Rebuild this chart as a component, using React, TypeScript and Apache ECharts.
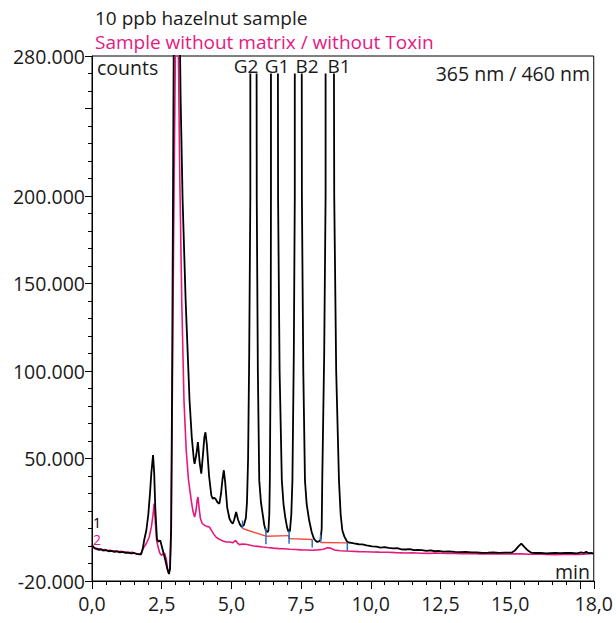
import React, { useEffect, useRef } from "react";
import * as echarts from "echarts";

// time (min), signal (thousand counts); null = trace leaves the drawn range
const sampleTrace: [number, number | null][] = [
  [0.0, 0.5], [0.05, -0.5], [0.1, -1.2], [0.17, -1.5], [0.25, -2.2], [0.33, -1.8], [0.4, -2.6], [0.5, -2.4],
  [0.6, -3.0], [0.7, -2.8], [0.8, -3.3], [0.9, -3.1], [1.0, -3.6], [1.1, -3.4], [1.2, -3.9], [1.3, -3.8],
  [1.4, -4.2], [1.5, -4.0], [1.6, -4.5], [1.7, -4.6], [1.76, -4.8], [1.82, -1.5], [1.88, 4], [1.95, 9],
  [2.02, 18], [2.08, 30], [2.13, 42], [2.19, 52], [2.23, 42], [2.27, 22], [2.33, 4], [2.38, 2.5],
  [2.45, 3.2], [2.5, 0], [2.57, -4.3], [2.63, -8], [2.7, -13], [2.76, -16], [2.8, -13], [2.84, 10],
  [2.87, 83], [2.9, 180], [2.93, 280], [2.97, 380], [3.05, 420], [3.12, 330], [3.16, 280], [3.18, 255],
  [3.25, 198], [3.36, 140], [3.5, 83], [3.58, 62], [3.65, 50], [3.68, 47], [3.74, 52], [3.8, 59.4],
  [3.86, 48], [3.92, 41.4], [3.98, 52], [4.03, 62], [4.07, 65], [4.12, 58], [4.2, 40], [4.28, 29],
  [4.33, 27], [4.38, 27.5], [4.43, 27], [4.5, 25], [4.57, 24.2], [4.63, 30], [4.68, 38], [4.73, 43.3],
  [4.78, 36], [4.85, 22], [4.93, 15.7], [5.0, 13.5], [5.05, 12.8], [5.1, 15], [5.17, 19.4], [5.24, 15],
  [5.3, 12.5], [5.37, 10.9], [5.45, 12], [5.52, 16], [5.56, 25], [5.6, 50], [5.64, 110], [5.68, 200],
  [5.68, 270], [5.79, null], [5.905, 270], [5.91, 200], [5.95, 100], [6.0, 37.5], [6.06, 25], [6.12, 18.5],
  [6.18, 12], [6.24, 8.5], [6.3, 8], [6.33, 9], [6.36, 18], [6.38, 37.5], [6.41, 110], [6.42, 200],
  [6.42, 270], [6.545, null], [6.67, 270], [6.675, 200], [6.73, 100], [6.81, 37.5], [6.87, 24], [6.93, 16.6],
  [7.0, 10.5], [7.05, 8.2], [7.1, 8.5], [7.15, 18], [7.19, 37.5], [7.24, 110], [7.275, 200], [7.275, 270],
  [7.4, null], [7.525, 270], [7.53, 200], [7.58, 100], [7.64, 37.5], [7.7, 24], [7.79, 14.7], [7.88, 8],
  [7.96, 4.2], [8.02, 3], [8.08, 2.3], [8.14, 2.6], [8.2, 3.5], [8.24, 10], [8.26, 37.5], [8.33, 110],
  [8.38, 200], [8.38, 270], [8.53, null], [8.68, 270], [8.69, 200], [8.76, 100], [8.86, 37.5], [8.92, 18],
  [8.98, 9], [9.05, 5.5], [9.1, 4], [9.15, 2.5], [9.21, 2.0], [9.3, 1.8], [9.4, 1.5], [9.57, 1.0],
  [9.7, 0.9], [9.85, 0.3], [10.05, -0.2], [10.2, -0.3], [10.35, -0.9], [10.5, -0.7], [10.64, -1.1], [10.8, -1.3],
  [10.95, -1.2], [11.1, -1.9], [11.24, -2.0], [11.4, -1.8], [11.55, -2.4], [11.7, -2.2], [11.83, -2.4], [12.0, -2.8],
  [12.15, -2.5], [12.3, -3.0], [12.43, -2.8], [12.6, -3.2], [12.8, -3.1], [13.02, -3.4], [13.2, -3.5], [13.4, -3.3],
  [13.62, -3.7], [13.8, -3.6], [14.0, -3.9], [14.21, -3.8], [14.4, -3.6], [14.6, -3.9], [14.8, -3.8], [15.05, -3.8],
  [15.17, -2.6], [15.28, -0.5], [15.4, 1.4], [15.5, -0.4], [15.64, -2.6], [15.76, -3.8], [15.9, -4.0], [16.1, -3.9],
  [16.3, -4.2], [16.6, -4.0], [16.8, -4.1], [17.0, -3.9], [17.19, -4.0], [17.4, -4.2], [17.55, -3.6], [17.65, -4.0],
  [17.73, -3.3], [17.82, -4.1], [17.9, -3.9], [18.0, -4.3],
];

const blankTrace: [number, number][] = [
  [0.0, 0.3], [0.05, -0.8], [0.1, -1.5], [0.17, -2.0], [0.25, -1.6], [0.33, -2.2], [0.45, -2.0], [0.55, -2.6],
  [0.64, -2.4], [0.75, -2.9], [0.85, -2.7], [0.95, -3.2], [1.05, -3.0], [1.15, -3.5], [1.24, -3.4], [1.35, -3.8],
  [1.45, -3.6], [1.55, -4.2], [1.65, -4.7], [1.72, -5.0], [1.78, -3.5], [1.85, -1], [1.95, 1.4], [2.05, 5],
  [2.13, 10.9], [2.19, 18], [2.23, 24.2], [2.27, 14], [2.32, 3], [2.37, -0.6], [2.43, -4], [2.49, -5.3],
  [2.55, -4.5], [2.61, -4.3], [2.67, -8], [2.72, -14], [2.76, -15.8], [2.8, -12], [2.84, 15], [2.88, 83],
  [2.93, 180], [2.99, 280], [3.03, 360], [3.07, 330], [3.1, 280], [3.15, 210], [3.22, 140], [3.3, 83],
  [3.38, 54.7], [3.46, 38], [3.56, 26.1], [3.62, 20], [3.68, 16.6], [3.73, 20], [3.77, 26], [3.8, 28],
  [3.84, 22], [3.89, 15.7], [3.95, 13], [4.04, 11.8], [4.12, 11.2], [4.21, 10.9], [4.3, 8.5], [4.38, 6.5],
  [4.45, 5.1], [4.55, 4], [4.65, 3.2], [4.81, 2.3], [4.95, 2.3], [5.05, 1.8], [5.15, 3.2], [5.22, 1.6],
  [5.29, 0.8], [5.4, 1.1], [5.52, 1.0], [5.64, 0.6], [5.8, 0.0], [5.95, -0.2], [6.12, -0.6], [6.3, -0.9],
  [6.5, -1.2], [6.71, -1.5], [6.9, -1.6], [7.1, -1.9], [7.31, -2.0], [7.5, -2.2], [7.7, -2.3], [7.9, -2.4],
  [8.1, -2.2], [8.3, -1.9], [8.45, -1.0], [8.55, -1.2], [8.7, -2.3], [8.9, -2.7], [9.1, -2.9], [9.3, -3.0],
  [9.57, -3.2], [9.8, -3.3], [10.05, -3.4], [10.3, -3.5], [10.6, -3.6], [10.9, -3.8], [11.24, -4.0], [11.5, -3.9],
  [11.8, -4.1], [12.1, -4.2], [12.4, -4.0], [12.7, -4.3], [13.0, -4.2], [13.3, -4.4], [13.6, -4.3], [13.9, -4.5],
  [14.21, -4.5], [14.5, -4.4], [14.8, -4.6], [15.1, -4.5], [15.4, -4.5], [15.7, -4.7], [16.0, -4.6], [16.3, -4.8],
  [16.6, -5.0], [16.9, -4.8], [17.2, -4.7], [17.5, -4.9], [17.75, -4.5], [18.0, -4.3],
];

// integration baselines: [startTime, startLevel, endTime, endLevel] (thousand counts)
const peakNames = ["G2", "G1", "B2", "B1"];
const baselines: [number, number, number, number][] = [
  [5.4, 10.0, 6.24, 5.6],
  [6.24, 5.6, 7.07, 5.9],
  [7.07, 4.2, 7.9, 3.7],
  [8.2, 2.0, 9.16, 1.8],
];

const xLabelValues = [0, 2.5, 5, 7.5, 10, 12.5, 15, 18];
const xMajorTicks = [0, 2.5, 5, 7.5, 10, 12.5, 15, 17.5, 18];
const yLabelValues = [-20000, 50000, 100000, 150000, 200000, 280000];
const yMajorTicks = [-20000, 50000, 100000, 150000, 200000, 250000, 280000];

const FONT = "'Open Sans', 'Noto Sans', sans-serif";
const TXT = "#1a1a1a";
const PINK = "#e6187f";

const toCounts = (arr: [number, number | null][]) =>
  arr.map(([t, v]) => [t, v === null ? null : v * 1000]);

const fmtCounts = (v: number) => (v < 0 ? "-" : "") + Math.round(Math.abs(v) / 1000) + ".000";

export default function App() {
  const ref = useRef<HTMLDivElement>(null);
  useEffect(() => {
    if (!ref.current) return;
    const chart = echarts.init(ref.current, null, { renderer: "svg" });

    const baselineData: any[] = [];
    baselines.forEach(([t0, v0, t1, v1]) => {
      baselineData.push([t0, v0 * 1000], [t1, v1 * 1000], [t1, null]);
    });
    const markerData: any[] = [];
    baselines.forEach(([t0, v0, t1, v1]) => {
      markerData.push([t0, v0 * 1000, 1], [t1, v1 * 1000, -1]);
    });

    const txt = (text: string, x: number, y: number, opts: any = {}) => ({
      type: "text",
      x,
      y,
      silent: true,
      style: {
        text,
        fill: opts.fill || TXT,
        font: `${opts.size || 19.5}px ${FONT}`,
        align: opts.align || "left",
        verticalAlign: "middle",
        textAlign: opts.align || "left",
        textVerticalAlign: "middle",
      },
    });

    const commonX = { type: "value", min: 0, max: 18, position: "bottom", splitLine: { show: false } };
    const commonY = { type: "value", min: -20000, max: 280000, position: "left", splitLine: { show: false } };

    chart.setOption({
      animation: false,
      grid: {
        left: 92,
        right: 20,
        top: 56,
        bottom: 42,
        show: true,
        borderColor: "#000",
        borderWidth: 1,
        backgroundColor: "transparent",
      },
      xAxis: [
        {
          ...commonX,
          interval: 0.5,
          axisLine: { show: true, onZero: false, lineStyle: { color: "#000", width: 1 } },
          axisTick: { show: true, length: 4, lineStyle: { color: "#000" } },
          axisLabel: { show: false },
        },
        {
          ...commonX,
          axisLine: { show: false, onZero: false },
          axisTick: { show: true, length: 8, customValues: xMajorTicks, lineStyle: { color: "#000" } },
          axisLabel: {
            show: true,
            customValues: xLabelValues,
            formatter: (v: number) => v.toFixed(1).replace(".", ","),
            color: TXT,
            fontFamily: FONT,
            fontSize: 19.5,
            margin: 12,
          },
        },
      ],
      yAxis: [
        {
          ...commonY,
          interval: 10000,
          axisLine: { show: true, onZero: false, lineStyle: { color: "#000", width: 1 } },
          axisTick: { show: true, length: 4, lineStyle: { color: "#000" } },
          axisLabel: { show: false },
        },
        {
          ...commonY,
          axisLine: { show: false, onZero: false },
          axisTick: { show: true, length: 7, customValues: yMajorTicks, lineStyle: { color: "#000" } },
          axisLabel: {
            show: true,
            customValues: yLabelValues,
            formatter: fmtCounts,
            color: TXT,
            fontFamily: FONT,
            fontSize: 19.5,
            margin: 7,
          },
        },
      ],
      series: [
        {
          name: "Sample without matrix / without Toxin",
          type: "line",
          data: toCounts(blankTrace),
          showSymbol: false,
          symbol: "none",
          lineStyle: { color: PINK, width: 1.6 },
          z: 2,
        },
        {
          name: "10 ppb hazelnut sample",
          type: "line",
          data: toCounts(sampleTrace),
          showSymbol: false,
          symbol: "none",
          connectNulls: false,
          lineStyle: { color: "#000", width: 1.8 },
          z: 3,
        },
        {
          name: "baseline",
          type: "line",
          data: baselineData,
          showSymbol: false,
          symbol: "none",
          connectNulls: false,
          lineStyle: { color: "#f04a3c", width: 1.4 },
          z: 4,
        },
        {
          name: "markers",
          type: "custom",
          data: markerData,
          z: 5,
          renderItem: (params: any, api: any) => {
            const p = api.coord([api.value(0), api.value(1)]);
            const dir = api.value(2);
            return {
              type: "line",
              shape: { x1: p[0], y1: p[1], x2: p[0], y2: p[1] - dir * 8 },
              style: { stroke: "#2f6cb8", lineWidth: 1.5 },
            };
          },
        },
      ],
      graphic: [
        txt("10 ppb hazelnut sample", 95, 18, { size: 19 }),
        txt("Sample without matrix / without Toxin", 95, 42, { fill: PINK, size: 19 }),
        txt("counts", 97, 67),
        txt("365 nm / 460 nm", 590, 73, { align: "right" }),
        txt("min", 590, 571, { align: "right" }),
        txt(peakNames[0], 246, 66, { align: "center", size: 19 }),
        txt(peakNames[1], 277, 66, { align: "center", size: 19 }),
        txt(peakNames[2], 307, 66, { align: "center", size: 19 }),
        txt(peakNames[3], 339, 66, { align: "center", size: 19 }),
        txt("1", 93, 522, { size: 14, fill: "#000" }),
        txt("2", 93, 539, { size: 14, fill: PINK }),
      ],
    });
    return () => chart.dispose();
  }, []);
  return (
    <div
      ref={ref}
      style={{ position: "fixed", left: 0, top: 0, width: 616, height: 623, background: "#fff" }}
    />
  );
}
